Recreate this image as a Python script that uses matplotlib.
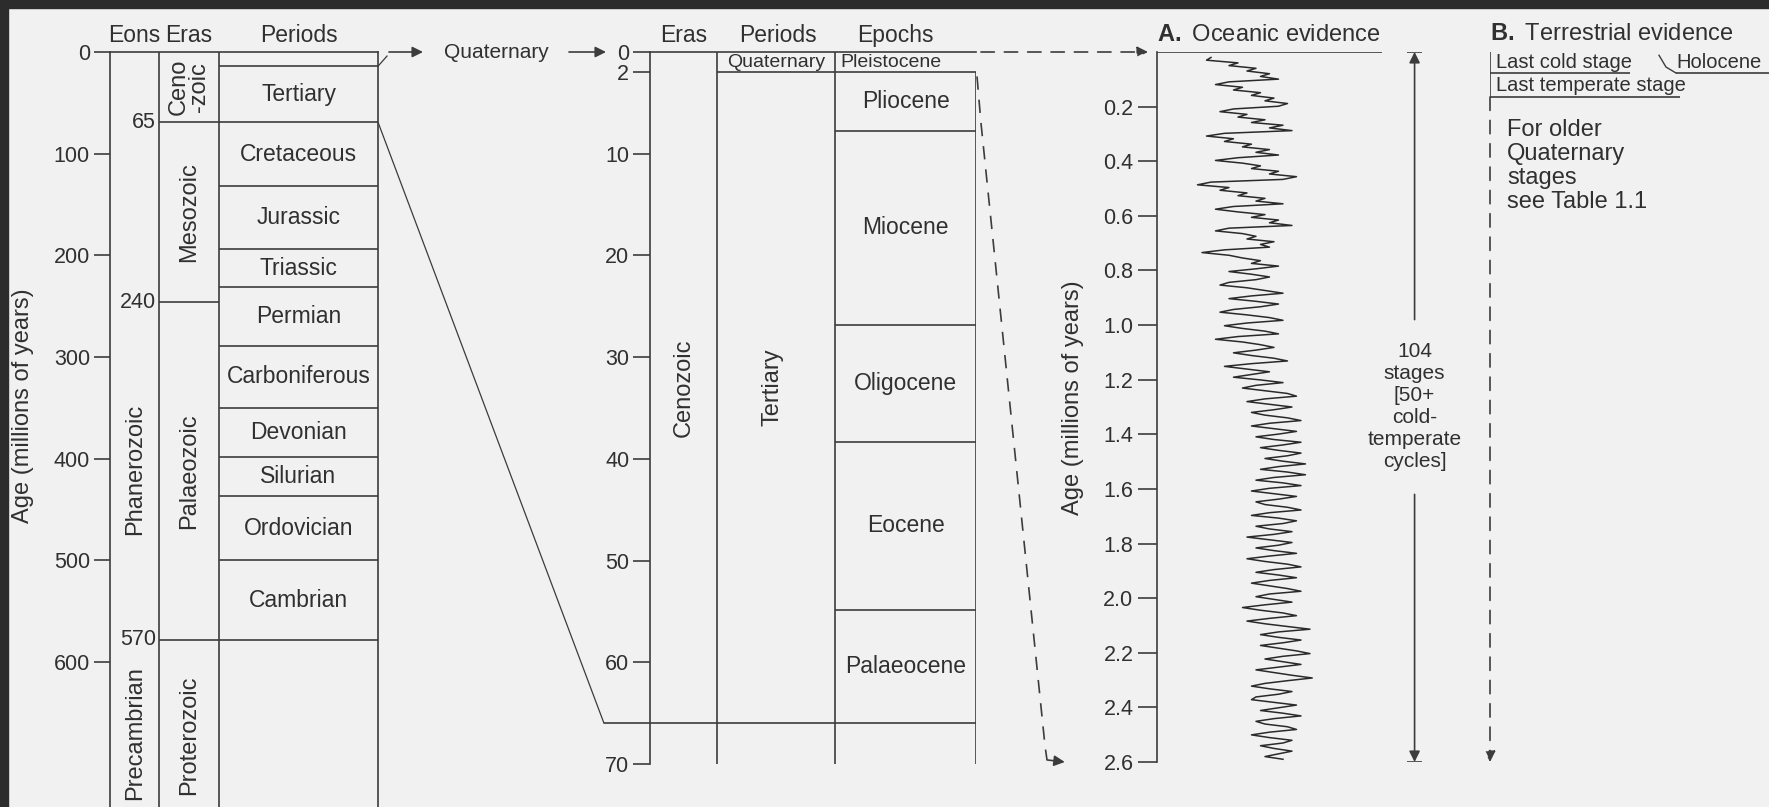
import numpy as np
import matplotlib.pyplot as plt
from matplotlib.patches import ConnectionPatch, Rectangle

W, H = 1769, 807

plt.rcParams['font.family'] = ['Liberation Sans', 'DejaVu Sans']
plt.rcParams['mathtext.fontset'] = 'custom'
plt.rcParams['mathtext.rm'] = 'Liberation Sans'
plt.rcParams['mathtext.bf'] = 'Liberation Sans:bold'

INK = '#3c3c3c'
TXT = '#303030'
PAPER = '#f1f1f1'
DASH = (0, (8, 6))

# ---- geological time scale (ages in Myr, boundaries as drawn) ----
geo_ticks = [0, 100, 200, 300, 400, 500, 600]
era_bounds = [69, 246, 578]
era_bound_labels = ['65', '240', '570']
period_bounds = [0, 14, 69, 132, 194, 231, 289, 350, 398, 437, 500, 578]
period_names = ['Quaternary', 'Tertiary', 'Cretaceous', 'Jurassic', 'Triassic', 'Permian',
                'Carboniferous', 'Devonian', 'Silurian', 'Ordovician', 'Cambrian']
era_names = ['Ceno\n-zoic', 'Mesozoic', 'Palaeozoic', 'Proterozoic']
era_label_ages = [34, 157, 412, 672]
eon_names = ['Phanerozoic', 'Precambrian']
eon_label_ages = [411, 670]

# ---- Cenozoic (Myr) ----
ceno_ticks = [0, 2, 10, 20, 30, 40, 50, 60, 70]
epoch_bounds = [0, 2, 7.8, 26.8, 38.3, 54.9, 66]
epoch_names = ['Pleistocene', 'Pliocene', 'Miocene', 'Oligocene', 'Eocene', 'Palaeocene']

# ---- Quaternary oceanic record (Myr) ----
quat_ticks = [0.2, 0.4, 0.6, 0.8, 1.0, 1.2, 1.4, 1.6, 1.8, 2.0, 2.2, 2.4, 2.6]
isotope = [
    2.4, 2.2, 3.6, 3.2, 4.4, 4.0, 5.0, 4.6, 5.4, 3.2, 2.6, 3.8, 3.4, 4.6, 4.2, 5.2, 4.8, 5.8, 5.4, 3.4,
    2.8, 4.0, 3.6, 4.8, 4.2, 5.6, 5.0, 6.0, 3.0, 2.2, 3.4, 3.0, 4.2, 3.8, 5.0, 4.4, 5.4, 3.6, 2.6, 3.8,
    4.6, 4.2, 5.4, 5.0, 6.2, 5.6, 2.4, 1.8, 3.2, 2.8, 4.0, 3.6, 4.8, 4.4, 5.6, 3.4, 2.6, 3.6, 4.8, 4.2,
    5.4, 5.0, 6.0, 3.2, 2.6, 3.8, 4.4, 4.0, 5.2, 4.6, 5.0, 3.0, 2.0, 3.2, 3.8, 4.6, 4.2, 5.4, 4.4, 3.2,
    4.2, 5.0, 4.4, 3.2, 2.8, 4.0, 4.8, 5.6, 4.2, 3.2, 4.4, 5.4, 4.6, 3.4, 2.8, 4.0, 5.0, 5.6, 4.0, 3.0,
    3.8, 4.8, 5.4, 3.6, 2.6, 3.8, 4.6, 5.2, 4.4, 3.4, 4.2, 5.2, 5.8, 4.2, 3.0, 4.0, 5.0, 4.2, 3.4, 4.6,
    5.6, 4.4, 3.8, 4.8, 5.8, 6.2, 4.8, 4.0, 5.0, 6.0, 5.2, 4.2, 4.8, 5.8, 6.4, 5.0, 4.2, 5.2, 6.2, 5.4,
    4.4, 5.2, 6.4, 5.6, 4.6, 5.4, 6.4, 5.8, 4.8, 5.6, 6.6, 5.4, 4.6, 5.8, 6.6, 5.2, 4.4, 5.6, 6.4, 5.0,
    4.2, 5.2, 6.2, 5.4, 4.4, 4.8, 5.8, 6.4, 5.0, 4.2, 5.4, 6.2, 5.6, 4.4, 5.0, 6.0, 5.2, 4.0, 5.0, 6.0,
    5.4, 4.4, 5.2, 6.2, 5.0, 4.0, 4.8, 5.8, 6.4, 5.2, 4.4, 5.4, 6.2, 5.0, 4.2, 5.0, 5.8, 6.4, 5.0, 4.4,
    5.2, 6.0, 4.8, 3.8, 4.6, 5.6, 6.2, 5.0, 4.0, 4.8, 5.8, 6.8, 5.4, 4.6, 5.4, 6.4, 5.6, 4.6, 5.4, 6.2,
    6.8, 5.6, 4.8, 5.6, 6.4, 5.4, 4.4, 5.2, 6.0, 6.9, 5.8, 4.8, 4.2, 5.0, 6.0, 5.4, 4.4, 4.2, 5.2, 6.2,
    5.4, 4.6, 5.6, 6.4, 5.2, 4.4, 4.8, 5.8, 6.2, 5.0, 4.2, 5.0, 6.0, 5.6, 4.6, 5.2, 6.0, 5.4, 4.8, 5.6,
]
isotope_ages = np.linspace(0.02, 2.59, len(isotope))
stage_note = '104\nstages\n[50+\ncold-\ntemperate\ncycles]'

# ---- terrestrial stages (schematic rows, as drawn) ----
terr_bounds = [0.077, 0.165]
terr_note = 'For older\nQuaternary\nstages\nsee Table 1.1'

fig = plt.figure(figsize=(W / 100, H / 100), dpi=100, facecolor=PAPER)
fig.add_artist(Rectangle((0, 1 - 8 / H), 1, 8 / H, transform=fig.transFigure, color='#2c2c2c', zorder=0))
fig.add_artist(Rectangle((0, 0), 8 / W, 1, transform=fig.transFigure, color='#2c2c2c', zorder=0))


def px_axes(x0, x1, y0, y1):
    ax = fig.add_axes([x0 / W, 1 - y1 / H, (x1 - x0) / W, (y1 - y0) / H])
    ax.set_facecolor('none')
    for s in ax.spines.values():
        s.set_color(INK)
        s.set_linewidth(1.2)
    return ax


def header(ax, x, label, **kw):
    ax.annotate(label, xy=(x, 0), xytext=(0, 12), textcoords='offset points',
                ha='center', va='center', fontsize=16.5, color=TXT, annotation_clip=False, **kw)


line_kw = dict(color=INK, lw=1.2)
txt_kw = dict(color=TXT, ha='center', va='center')

# ---------------- left: whole geological column ----------------
ax1 = px_axes(110, 378, 52, 807)
ax1.set_xlim(110, 378)
ax1.set_ylim(742.6, 0)
ax1.spines['bottom'].set_visible(False)
ax1.set_xticks([])
ax1.set_yticks(geo_ticks)
ax1.tick_params(axis='y', length=11.5, width=1.2, color=INK, pad=3, labelsize=15.5, labelcolor=TXT)
ax1.axvline(159, **line_kw)
ax1.axvline(219, **line_kw)
ax1.hlines(era_bounds, 159, 219, **line_kw)
ax1.hlines(period_bounds[1:], 219, 378, **line_kw)
for b, lab in zip(era_bounds, era_bound_labels):
    ax1.text(156, b, lab, ha='right', va='center', fontsize=15.5, color=TXT)
for i in range(1, len(period_names)):
    mid = (period_bounds[i] + period_bounds[i + 1]) / 2
    ax1.text(298.5, mid, period_names[i], fontsize=16.5, **txt_kw)
for name, age in zip(era_names, era_label_ages):
    ax1.text(189, age, name, rotation=90, fontsize=17, linespacing=0.9, clip_on=False, **txt_kw)
for name, age in zip(eon_names, eon_label_ages):
    ax1.text(135, age, name, rotation=90, fontsize=17, clip_on=False, **txt_kw)
ax1.plot([378, 387], [period_bounds[1], 4], clip_on=False, color=INK, lw=0.9)
header(ax1, 134.5, 'Eons')
header(ax1, 189, 'Eras')
header(ax1, 298.5, 'Periods')
fig.text(23 / W, 1 - 406 / H, 'Age (millions of years)', rotation=90, ha='center', va='center',
         fontsize=17, color=TXT)

# ---------------- middle: Cenozoic ----------------
ax2 = px_axes(650, 976, 52, 764)
ax2.set_xlim(650, 976)
ax2.set_ylim(70, 0)
ax2.spines['bottom'].set_visible(False)
ax2.spines['right'].set_visible(False)
ax2.set_xticks([])
ax2.set_yticks(ceno_ticks)
ax2.tick_params(axis='y', length=12, width=1.2, color=INK, pad=3, labelsize=15.5, labelcolor=TXT)
ax2.axvline(717, **line_kw)
ax2.axvline(835, **line_kw)
ax2.vlines(976, epoch_bounds[1], 70, **line_kw)
ax2.hlines(epoch_bounds[1], 717, 976, **line_kw)
ax2.hlines(epoch_bounds[2:-1], 835, 976, **line_kw)
ax2.hlines(epoch_bounds[-1], 604, 976, clip_on=False, **line_kw)
ax2.text(776, epoch_bounds[1] / 2, 'Quaternary', fontsize=14, **txt_kw)
ax2.text(840, epoch_bounds[1] / 2, epoch_names[0], fontsize=14, color=TXT, ha='left', va='center')
for i in range(1, len(epoch_names)):
    mid = (epoch_bounds[i] + epoch_bounds[i + 1]) / 2
    ax2.text(905.5, mid, epoch_names[i], fontsize=16.5, **txt_kw)
ax2.text(684, 33, 'Cenozoic', rotation=90, fontsize=17, **txt_kw)
ax2.text(772, 33, 'Tertiary', rotation=90, fontsize=17, **txt_kw)
header(ax2, 683.5, 'Eras')
header(ax2, 778, 'Periods')
header(ax2, 895, 'Epochs')

arrow = dict(arrowstyle='-|>', color=INK, lw=1.2, mutation_scale=16, shrinkA=0, shrinkB=0)
ax2.annotate('', xy=(423, 0), xytext=(389, 0), arrowprops=arrow, annotation_clip=False)
ax2.text(496, 0, 'Quaternary', fontsize=15, clip_on=False, **txt_kw)
ax2.annotate('', xy=(606, 0), xytext=(569, 0), arrowprops=arrow, annotation_clip=False)

# link 65 Myr boundary of the full column to the Cenozoic column
fig.add_artist(ConnectionPatch(xyA=(378, period_bounds[2]), coordsA=ax1.transData,
                               xyB=(604, epoch_bounds[-1]), coordsB=ax2.transData,
                               color=INK, lw=0.9))

# ---------------- A. oceanic evidence ----------------
ax3 = px_axes(1157, 1440, 52, 762)
ax3.set_xlim(0, 12.58)
ax3.set_ylim(2.6, 0)
for s in ['top', 'right', 'bottom']:
    ax3.spines[s].set_visible(False)
ax3.set_xticks([])
ax3.set_yticks(quat_ticks)
ax3.set_yticklabels(['%.1f' % t for t in quat_ticks])
ax3.tick_params(axis='y', length=14, width=1.2, color=INK, pad=3, labelsize=15.5, labelcolor=TXT)
ax3.hlines(0, 0, 10, **line_kw)
ax3.plot(isotope, isotope_ages, color='#2a2a2a', lw=1.1)
ax3.annotate(r'$\mathbf{A.}$ Oceanic evidence', xy=(0, 0), xytext=(0, 12), textcoords='offset points',
             ha='left', va='center', fontsize=17, color=TXT, annotation_clip=False)
fig.text(1073 / W, 1 - 398 / H, 'Age (millions of years)', rotation=90, ha='center', va='center',
         fontsize=17, color=TXT)

ax3.hlines([0, 2.6], 11.12, 11.78, **line_kw)
ax3.annotate('', xy=(11.45, 0), xytext=(11.45, 0.98), arrowprops=arrow, annotation_clip=False)
ax3.annotate('', xy=(11.45, 2.6), xytext=(11.45, 1.62), arrowprops=arrow, annotation_clip=False)
ax3.text(11.45, 1.30, stage_note, fontsize=15, linespacing=1.2, clip_on=False, **txt_kw)

# dashed links from the Cenozoic column into the Quaternary record
dash_arrow = dict(arrowstyle='-|>', color=INK, lw=1.2, ls=DASH, mutation_scale=16, shrinkA=0, shrinkB=0)
ax3.annotate('', xy=(-0.4, 0), xytext=(981, 0), textcoords=ax2.transData,
             arrowprops=dash_arrow, annotation_clip=False)
ax2.plot([977, 981, 1045, 1047], [epoch_bounds[1] + 0.4, 7, 68.2, 69.6],
         clip_on=False, color=INK, lw=1.2, ls=DASH)
ax3.annotate('', xy=(-4.1, 2.6), xytext=(1047, 69.6), textcoords=ax2.transData,
             arrowprops=arrow, annotation_clip=False)

# ---------------- B. terrestrial evidence ----------------
ax4 = px_axes(1490, 1769, 52, 762)
ax4.set_xlim(1490, 1769)
ax4.set_ylim(2.6, 0)
ax4.axis('off')
ax4.hlines(-0.006, 1490, 1769, **line_kw)
ax4.vlines(1490, -0.006, terr_bounds[1], **line_kw)
ax4.annotate('', xy=(1490, 2.6), xytext=(1490, terr_bounds[1]), arrowprops=dash_arrow, annotation_clip=False)
ax4.hlines(terr_bounds[0], 1490, 1630, **line_kw)
ax4.hlines(terr_bounds[0], 1676, 1769, **line_kw)
ax4.hlines(terr_bounds[1], 1490, 1680, **line_kw)
ax4.plot([1659, 1666, 1676], [0.012, 0.055, terr_bounds[0]], color=INK, lw=1.0)
ax4.text(1496, 0.037, 'Last cold stage', fontsize=14.5, color=TXT, ha='left', va='center')
ax4.text(1676, 0.037, 'Holocene', fontsize=14.5, color=TXT, ha='left', va='center')
ax4.text(1496, 0.121, 'Last temperate stage', fontsize=14.5, color=TXT, ha='left', va='center')
ax4.text(1507, 0.418, terr_note, fontsize=17, linespacing=1.12, color=TXT, ha='left', va='center')
ax4.annotate(r'$\mathbf{B.}$ Terrestrial evidence', xy=(1490, 0), xytext=(0, 13), textcoords='offset points',
             ha='left', va='center', fontsize=17, color=TXT, annotation_clip=False)

fig.savefig('out.png', dpi=100, facecolor=PAPER)
